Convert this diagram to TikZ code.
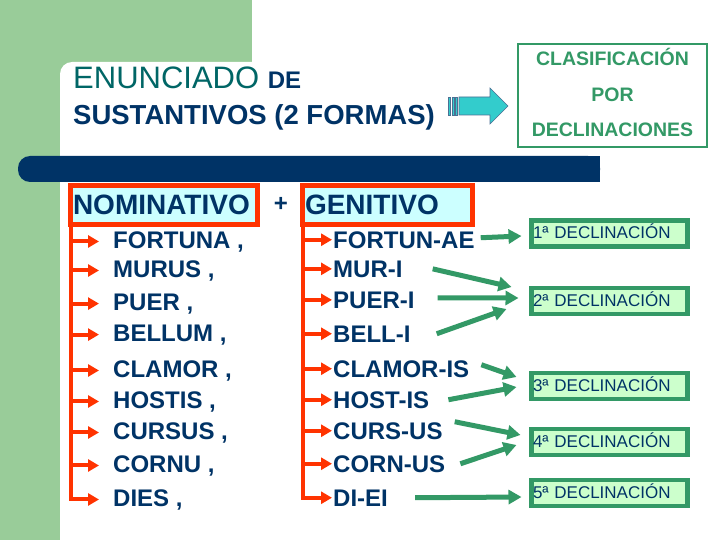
\documentclass[tikz,border=0pt]{standalone}
\usepackage{fontspec}
\setmainfont{Liberation Sans}
\usetikzlibrary{arrows.meta}

\definecolor{bggreen}{RGB}{153,204,153}
\definecolor{navy}{RGB}{0,51,102}
\definecolor{titleteal}{RGB}{0,102,102}
\definecolor{boxgreen}{RGB}{51,153,102}
\definecolor{caseRed}{RGB}{255,51,0}
\definecolor{lightcyan}{RGB}{204,255,255}
\definecolor{lightgreen}{RGB}{204,255,204}
\definecolor{arrowcyan}{RGB}{51,204,204}

\tikzset{
  word/.style={anchor=base west, inner sep=0pt, text=navy, font=\bfseries\fontsize{24}{24}\selectfont},
  casebox/.style={anchor=west, draw=caseRed, line width=5pt, outer sep=0pt, fill=lightcyan,
    inner xsep=2.5pt, inner ysep=0pt, minimum height=39pt, align=left, text=navy,
    font=\bfseries\fontsize{28}{28}\selectfont},
  declbox/.style={draw=boxgreen, line width=4.5pt, outer sep=0pt, fill=lightgreen, minimum height=26pt,
    inner xsep=1.5pt, inner ysep=0pt, text width=153pt, text depth=4pt, align=left, text=navy,
    font=\fontsize{17}{17}\selectfont},
  redarrow/.style={draw=caseRed, line width=4pt, -{Triangle[length=11pt,width=12pt]}},
  greenarrow/.style={draw=boxgreen, line width=5pt, -{Triangle[length=13pt,width=14pt]}},
}

\begin{document}
\begin{tikzpicture}[x=1pt, y=-1pt]
  \useasboundingbox (0,0) rectangle (720,540);
  % background
  \fill[white] (0,0) rectangle (720,540);
  \fill[bggreen] (0,0) rectangle (252,100);
  \fill[bggreen] (0,0) rectangle (60,540);
  \fill[white, rounded corners=12pt] (60,62) rectangle (760,580);
  \fill[navy, rounded corners=12pt] (18,156) rectangle (600,182);
  \fill[navy] (300,156) rectangle (600,182);

  % title
  \node[anchor=base west, inner sep=0pt, text=titleteal, font=\fontsize{31}{31}\selectfont] (enun) at (73,89)
    {ENUNCIADO \textcolor{navy}{\bfseries\fontsize{24}{24}\selectfont DE}};
  \node[anchor=base west, inner sep=0pt, text=navy, font=\bfseries\fontsize{27.5}{27.5}\selectfont] (sust) at (73,125)
    {SUSTANTIVOS (2 FORMAS)};

  % block arrow
  \filldraw[fill=arrowcyan, draw=navy!70, line width=0.6pt]
    (459,97) -- (490,97) -- (490,88) -- (508,106) -- (490,124) -- (490,115) -- (459,115) -- cycle;
  \filldraw[fill=arrowcyan, draw=navy!70, line width=0.6pt] (448,97) rectangle (450.5,115);
  \filldraw[fill=arrowcyan, draw=navy!70, line width=0.6pt] (452,97) rectangle (454.5,115);
  \filldraw[fill=arrowcyan, draw=navy!70, line width=0.6pt] (455.5,97) rectangle (457.5,115);

  \node[draw=boxgreen, line width=2pt, minimum width=189pt, minimum height=103pt, align=center,
    text=boxgreen, text depth=6pt, font=\bfseries\fontsize{19.5}{35.5}\selectfont] (clasif) at (612.5,95.5)
    {CLASIFICACIÓN\\POR\\DECLINACIONES};

  % case headers
  \node[casebox, text width=182pt] (nom) at (70.5,205) {NOMINATIVO};
  \node[anchor=center, text=navy, font=\bfseries\fontsize{24}{24}\selectfont] (plus) at (281,204) {+};
  \node[casebox, text width=165pt] (gen) at (302.5,205) {GENITIVO};

  % nominative forms
  \node[word] (n1) at (113,248) {FORTUNA ,};
  \node[word] (n2) at (113,277) {MURUS ,};
  \node[word] (n3) at (113,310) {PUER ,};
  \node[word] (n4) at (113,341) {BELLUM ,};
  \node[word] (n5) at (113,377) {CLAMOR ,};
  \node[word] (n6) at (113,408) {HOSTIS ,};
  \node[word] (n7) at (113,439) {CURSUS ,};
  \node[word] (n8) at (113,472) {CORNU ,};
  \node[word] (n9) at (113,506) {DIES ,};

  % genitive forms
  \node[word] (g1) at (333,248) {FORTUN-AE};
  \node[word] (g2) at (333,277) {MUR-I};
  \node[word] (g3) at (333,308) {PUER-I};
  \node[word] (g4) at (333,342) {BELL-I};
  \node[word] (g5) at (333,377) {CLAMOR-IS};
  \node[word] (g6) at (333,408) {HOST-IS};
  \node[word] (g7) at (333,439) {CURS-US};
  \node[word] (g8) at (333,472) {CORN-US};
  \node[word] (g9) at (333,506) {DI-EI};

  % declensions
  \node[declbox] (d1) at (609.5,233.5) {1ª DECLINACIÓN};
  \node[declbox] (d2) at (609.5,301) {2ª DECLINACIÓN};
  \node[declbox] (d3) at (609.5,386) {3ª DECLINACIÓN};
  \node[declbox] (d4) at (609.5,442) {4ª DECLINACIÓN};
  \node[declbox] (d5) at (609.5,493) {5ª DECLINACIÓN};

  % red brackets
  \draw[redarrow, shorten >=14pt] (nom.south west) |- (n9.west);
  \draw[redarrow, shorten >=14pt] (nom.south west |- n1.west) -- (n1.west);
  \draw[redarrow, shorten >=14pt] (nom.south west |- n2.west) -- (n2.west);
  \draw[redarrow, shorten >=14pt] (nom.south west |- n3.west) -- (n3.west);
  \draw[redarrow, shorten >=14pt] (nom.south west |- n4.west) -- (n4.west);
  \draw[redarrow, shorten >=14pt] (nom.south west |- n5.west) -- (n5.west);
  \draw[redarrow, shorten >=14pt] (nom.south west |- n6.west) -- (n6.west);
  \draw[redarrow, shorten >=14pt] (nom.south west |- n7.west) -- (n7.west);
  \draw[redarrow, shorten >=14pt] (nom.south west |- n8.west) -- (n8.west);

  \draw[redarrow, shorten >=1pt] (gen.south west) |- (g9.west);
  \draw[redarrow, shorten >=1pt] (gen.south west |- g1.west) -- (g1.west);
  \draw[redarrow, shorten >=1pt] (gen.south west |- g2.west) -- (g2.west);
  \draw[redarrow, shorten >=1pt] (gen.south west |- g3.west) -- (g3.west);
  \draw[redarrow, shorten >=1pt] (gen.south west |- g4.west) -- (g4.west);
  \draw[redarrow, shorten >=1pt] (gen.south west |- g5.west) -- (g5.west);
  \draw[redarrow, shorten >=1pt] (gen.south west |- g6.west) -- (g6.west);
  \draw[redarrow, shorten >=1pt] (gen.south west |- g7.west) -- (g7.west);
  \draw[redarrow, shorten >=1pt] (gen.south west |- g8.west) -- (g8.west);

  % genitive -> declension
  \draw[greenarrow] ([xshift=6pt,yshift=2pt]g1.east) -- ([xshift=-10pt,yshift=-2.5pt]d1.west);
  \draw[greenarrow] ([xshift=30pt]g2.east) -- ([xshift=-20pt,yshift=14pt]d2.west);
  \draw[greenarrow] ([xshift=23pt,yshift=2pt]g3.east) -- ([xshift=-13pt,yshift=3pt]d2.west);
  \draw[greenarrow] ([xshift=26pt]g4.east) -- ([xshift=-25pt,yshift=-8pt]d2.west);
  \draw[greenarrow] ([xshift=12pt,yshift=4pt]g5.east) -- ([xshift=-15pt,yshift=9pt]d3.west);
  \draw[greenarrow] ([xshift=19pt]g6.east) -- ([xshift=-15pt,yshift=-1pt]d3.west);
  \draw[greenarrow] ([xshift=12pt,yshift=9pt]g7.east) -- ([xshift=-11pt,yshift=7pt]d4.west);
  \draw[greenarrow] ([xshift=15pt]g8.east) -- ([xshift=-15pt,yshift=-3pt]d4.west);
  \draw[greenarrow] ([xshift=27pt]g9.east) -- ([xshift=-10pt,yshift=-4pt]d5.west);
\end{tikzpicture}
\end{document}
